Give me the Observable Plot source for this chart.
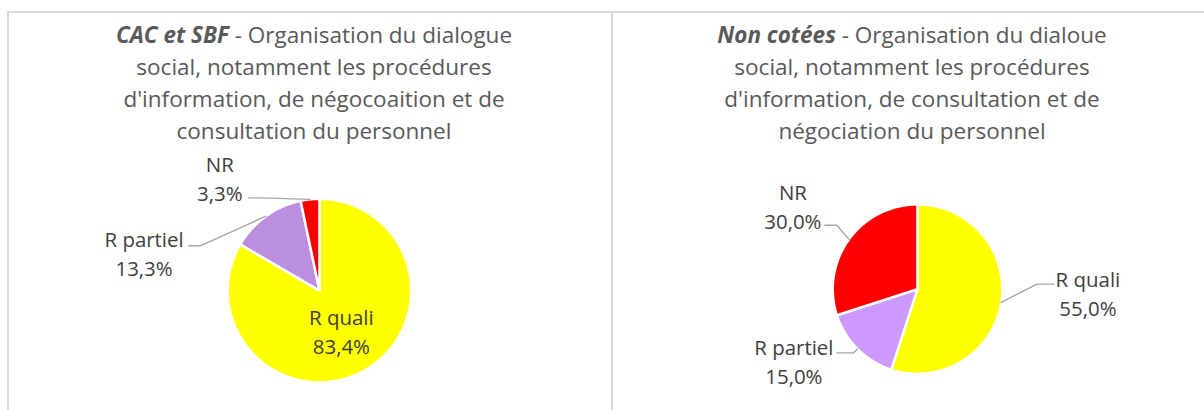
<!DOCTYPE html>
<html>
<head>
<meta charset="utf-8">
<script src="https://cdn.jsdelivr.net/npm/d3@7"></script>
<script src="https://cdn.jsdelivr.net/npm/@observablehq/plot@0.6"></script>
<style>
  html, body { margin: 0; padding: 0; background: #fff; width: 1204px; height: 410px; overflow: hidden; }
  #root { position: relative; width: 1204px; height: 410px; }
  .panel { position: absolute; top: 11px; height: 420px; border-top: 2px solid #d9d9d9; border-left: 2px solid #d9d9d9; box-sizing: border-box; }
  .title { position: absolute; top: 6px; left: 0; width: 100%; text-align: center; font-family: "Open Sans", sans-serif; font-size: 22.5px; line-height: 32px; color: #595959; white-space: nowrap; }
  .title b { font-style: italic; }
  .panel svg { position: absolute; top: 0; left: 0; }
</style>
</head>
<body>
<div id="root"></div>
<script>
// ---- Data ----
const categories = ["R quali", "R partiel", "NR"];
const cacValues = [83.4, 13.3, 3.3];
const nonCoteesValues = [55.0, 15.0, 30.0];
const cacTitleBold = "CAC et SBF";
const cacTitleLines = [" - Organisation du dialogue", "social, notamment les procédures", "d'information, de négocoaition et de", "consultation du personnel"];
const ncTitleBold = "Non cotées";
const ncTitleLines = [" - Organisation du dialoue", "social, notamment les procédures", "d'information, de consultation et de", "négociation du personnel"];

// ---- Layout / style (not data) ----
const panels = [
  {
    left: 7, width: 604, cx: 311, cy: 278, r: 92,
    colors: ["#ffff00", "#bb8fdd", "#ff0000"],
    bold: cacTitleBold, lines: cacTitleLines, titleShift: 4,
    values: cacValues,
    // label centre and leader (elbow, anchor) offsets relative to the pie centre, px
    labels: [
      {lab: [22, 40], leader: null},
      {lab: [-176, -38], leader: [[-119, -45], [-131, -45]]},
      {lab: [-100, -114], leader: [[-59, -93], [-71, -93]]}
    ]
  },
  {
    left: 611, width: 600, cx: 305, cy: 276.5, r: 85,
    colors: ["#ffff00", "#cc99ff", "#ff0000"],
    bold: ncTitleBold, lines: ncTitleLines, titleShift: 0,
    values: nonCoteesValues,
    labels: [
      {lab: [171, 3], leader: [[120, -5], [137, -5]]},
      {lab: [-124, 71], leader: [[-64, 64], [-81, 64]]},
      {lab: [-125, -84], leader: [[-81, -64], [-93, -64]]}
    ]
  }
];

const root = document.getElementById("root");
const fmt = v => v.toFixed(1).replace(".", ",") + "%";

for (const p of panels) {
  const div = document.createElement("div");
  div.className = "panel";
  div.style.left = p.left + "px";
  div.style.width = p.width + "px";
  root.appendChild(div);

  const H = 400;
  const total = d3.sum(p.values);
  const arcs = d3.pie().sort(null).value(d => d)(p.values);

  // slice polygons from the pie angles
  const slicePts = [];
  arcs.forEach((a, i) => {
    slicePts.push({cat: categories[i], x: 0, y: 0});
    const n = Math.max(2, Math.ceil((a.endAngle - a.startAngle) / (Math.PI / 180)));
    for (let k = 0; k <= n; k++) {
      const t = a.startAngle + (a.endAngle - a.startAngle) * k / n;
      slicePts.push({cat: categories[i], x: p.r * Math.sin(t), y: -p.r * Math.cos(t)});
    }
  });

  const labelRows = arcs.map((a, i) => ({
    cat: categories[i],
    x: p.labels[i].lab[0],
    y: p.labels[i].lab[1],
    text: categories[i] + "\n" + fmt(p.values[i] / total * 100)
  }));

  const leaderPts = [];
  arcs.forEach((a, i) => {
    const L = p.labels[i].leader;
    if (!L) return;
    const mid = (a.startAngle + a.endAngle) / 2;
    leaderPts.push({cat: categories[i], x: p.r * Math.sin(mid), y: -p.r * Math.cos(mid)});
    leaderPts.push({cat: categories[i], x: L[0][0], y: L[0][1]});
    leaderPts.push({cat: categories[i], x: L[1][0], y: L[1][1]});
  });

  const svg = Plot.plot({
    width: p.width,
    height: H,
    margin: 0,
    x: {type: "linear", domain: [-p.cx, p.width - p.cx], range: [0, p.width], axis: null},
    y: {type: "linear", domain: [-p.cy, H - p.cy], range: [0, H], axis: null},
    color: {domain: categories, range: p.colors},
    style: {background: "transparent", fontFamily: "Open Sans, sans-serif"},
    marks: [
      Plot.line(slicePts, {x: "x", y: "y", z: "cat", fill: "cat", stroke: "white", strokeWidth: 2.5, strokeLinejoin: "miter", curve: "linear-closed"}),
      Plot.line(leaderPts, {x: "x", y: "y", z: "cat", stroke: "#a6a6a6", strokeWidth: 1.4}),
      Plot.text(labelRows, {x: "x", y: "y", text: "text", fontSize: 20.5, lineHeight: 1.42, fill: "#404040", textAnchor: "middle", lineAnchor: "middle"})
    ]
  });
  div.appendChild(svg);

  const title = document.createElement("div");
  title.className = "title";
  title.style.left = (p.titleShift) + "px";
  const b = document.createElement("b");
  b.textContent = p.bold;
  title.appendChild(b);
  p.lines.forEach((ln, i) => {
    if (i > 0) title.appendChild(document.createElement("br"));
    title.appendChild(document.createTextNode(ln));
  });
  div.appendChild(title);
}
</script>
</body>
</html>
